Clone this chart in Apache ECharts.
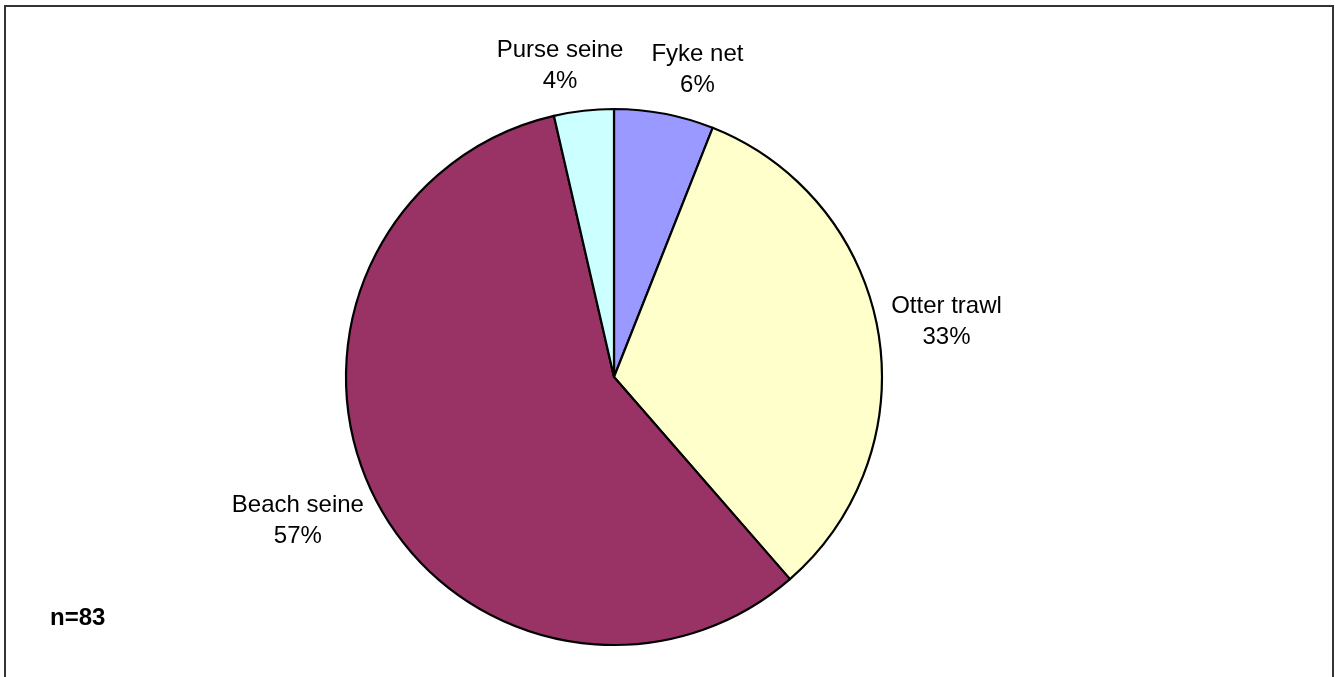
<!DOCTYPE html>
<html>
<head>
<meta charset="utf-8">
<script src="https://cdn.jsdelivr.net/npm/echarts@6/dist/echarts.min.js"></script>
<style>
  html, body { margin: 0; padding: 0; background: #fff; }
  #chart { width: 1335px; height: 677px; }
</style>
</head>
<body>
<div id="chart"></div>
<script>
// ---- data ----
const categories = ['Fyke net', 'Otter trawl', 'Beach seine', 'Purse seine'];
const shares = [6.0, 32.6, 57.8, 3.6];          // slice sizes (share of total, %)
const pctLabels = ['6%', '33%', '57%', '4%'];   // percentages as printed
const sampleNote = 'n=83';

// ---- styling ----
const colors = ['#9999FF', '#FFFFCC', '#993366', '#CCFFFF'];
const CENTER = [614, 377];
const RADIUS = 268;
const LABEL_GAP = 14;
const labelNudge = { 0: [22, 0], 1: [0, -2], 2: [-6, 2], 3: [-15, 0] };

const total = shares.reduce((a, b) => a + b, 0);
const midAngles = [];
let cum = 0;
shares.forEach(v => {
  midAngles.push(((cum + v / 2) / total) * 2 * Math.PI);
  cum += v;
});

const chart = echarts.init(document.getElementById('chart'), null, { renderer: 'canvas' });
chart.setOption({
  animation: false,
  backgroundColor: '#ffffff',
  graphic: [
    {
      type: 'rect',
      shape: { x: 5, y: 6, width: 1328, height: 690 },
      style: { fill: 'none', stroke: '#333333', lineWidth: 2 },
      silent: true
    },
    {
      type: 'text',
      left: 50,
      top: 606,
      style: {
        text: sampleNote,
        fontFamily: 'Liberation Sans, Arial, sans-serif',
        fontWeight: 'bold',
        fontSize: 24,
        fill: '#000'
      }
    }
  ],
  series: [{
    type: 'pie',
    center: CENTER,
    radius: RADIUS,
    startAngle: 90,
    clockwise: true,
    avoidLabelOverlap: false,
    data: categories.map((c, i) => ({
      name: c,
      value: shares[i],
      itemStyle: { color: colors[i] }
    })),
    itemStyle: { borderColor: '#000', borderWidth: 2.2 },
    emphasis: { disabled: true },
    label: {
      show: true,
      position: 'outside',
      formatter: p => p.name + '\n' + pctLabels[p.dataIndex],
      fontFamily: 'Liberation Sans, Arial, sans-serif',
      fontSize: 24,
      lineHeight: 31,
      color: '#000',
      align: 'center'
    },
    labelLine: { show: false },
    labelLayout: function (params) {
      const i = params.dataIndex;
      const a = midAngles[i];
      const ux = Math.sin(a), uy = -Math.cos(a);
      const w = params.labelRect.width, h = params.labelRect.height;
      const n = labelNudge[i] || [0, 0];
      return {
        x: CENTER[0] + (RADIUS + LABEL_GAP) * ux + (w / 2) * ux + n[0],
        y: CENTER[1] + (RADIUS + LABEL_GAP) * uy + (h / 2) * uy + n[1],
        align: 'center',
        verticalAlign: 'middle'
      };
    }
  }]
});
</script>
</body>
</html>
